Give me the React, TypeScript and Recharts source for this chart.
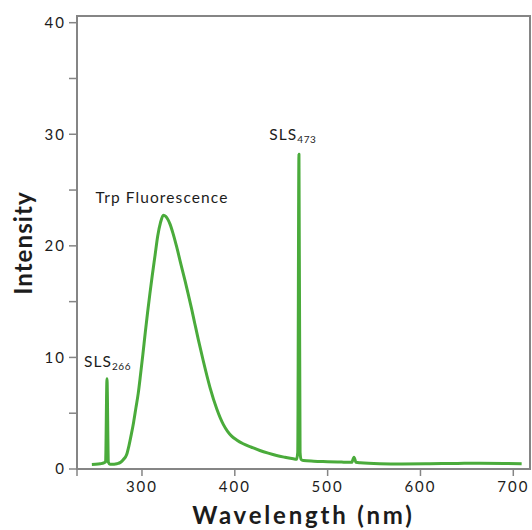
import {
  Label,
  Line,
  LineChart,
  ReferenceArea,
  ReferenceDot,
  XAxis,
  YAxis,
} from 'recharts'

// emission spectrum
const wavelengths = [
  246, 250, 255, 259, 260.8, 262.3, 263.8, 265.5, 270, 273, 277, 280, 283.5,
  286, 288.5, 291, 293.5, 296, 298.5, 301, 303.5, 306, 308.5, 311, 314, 317,
  320, 323, 325.5, 328, 330.2, 333.5, 337.4, 341.5, 346.3, 350, 353.6,
  357, 360.7, 366, 373.3, 380.5, 387.6, 392, 396.6, 402, 409, 418, 427, 436,
  445, 454, 463, 466.5, 467.8, 469.1, 470.3, 471.5, 473.8, 485, 500, 515,
  522, 526, 528.4, 530.5, 535, 556, 580, 610, 640, 664, 690, 709,
]
const intensity = [
  0.4, 0.42, 0.47, 0.55, 0.65, 8.08, 0.6, 0.42, 0.43, 0.47, 0.6, 0.85, 1.3,
  2.1, 3.1, 4.2, 5.5, 6.8, 8.5, 10.3, 12.2, 14.0, 15.7, 17.3, 19.1, 20.9,
  22.1, 22.75, 22.65, 22.35, 21.95, 21.1, 19.9, 18.5, 16.9, 15.6, 14.3, 13.0,
  11.6, 9.7, 7.3, 5.4, 4.0, 3.4, 2.95, 2.6, 2.26, 1.95, 1.66, 1.42, 1.21,
  1.05, 0.91, 0.87, 1.5, 28.2, 1.5, 0.85, 0.76, 0.7, 0.66, 0.62, 0.6, 0.6,
  1.06, 0.6, 0.55, 0.47, 0.45, 0.47, 0.5, 0.52, 0.5, 0.47,
]

const yTicks = [0, 5, 10, 15, 20, 25, 30, 35, 40]
const xTicks = [230, 300, 400, 500, 600, 700]

const data = wavelengths.map((w, i) => ({ w, v: intensity[i] }))

const GREEN = '#4aab3b'
const AXIS = '#858585'
const INK = '#1c1c1c'
const FONT = 'Lato, "DejaVu Sans", sans-serif'

function peakLabel(main: string, sub?: string) {
  return (props: any) => {
    const vb = props.viewBox || {}
    const x = (vb.x ?? 0) + (vb.width ?? 0) / 2
    const y = (vb.y ?? 0) + (vb.height ?? 0) / 2
    return (
      <text
        x={x}
        y={y}
        textAnchor="middle"
        fill={INK}
        fontFamily={FONT}
        fontSize={15.5}
        letterSpacing={1.1}
      >
        {main}
        {sub && (
          <tspan fontSize={10} dy={3} letterSpacing={0.6}>
            {sub}
          </tspan>
        )}
      </text>
    )
  }
}

export default function App() {
  return (
    <div style={{ position: 'absolute', left: 0, top: 0, width: 532, height: 530 }}>
      <LineChart
        width={532}
        height={530}
        data={data}
        margin={{ top: 16, right: 2, bottom: 0, left: 0 }}
      >
        <XAxis
          dataKey="w"
          type="number"
          domain={[230, 718]}
          ticks={xTicks}
          tickFormatter={(v) => (v === 230 ? '' : String(v))}
          height={61}
          tickSize={7}
          tickMargin={5}
          axisLine={{ stroke: AXIS, strokeWidth: 2 }}
          tickLine={{ stroke: AXIS, strokeWidth: 1.5 }}
          tick={{ fill: INK, fontSize: 15, fontFamily: FONT, letterSpacing: 2 }}
          allowDataOverflow
        >
          <Label
            content={(p: any) => {
              const vb = p.viewBox || {}
              return (
                <text
                  x={vb.x + vb.width / 2}
                  y={vb.y + 55}
                  textAnchor="middle"
                  fill={INK}
                  fontFamily={FONT}
                  fontWeight={700}
                  fontSize={24}
                  letterSpacing={2.8}
                >
                  Wavelength (nm)
                </text>
              )
            }}
          />
        </XAxis>
        <YAxis
          type="number"
          domain={[0, 40.6]}
          ticks={yTicks}
          tickFormatter={(v) => (v % 10 === 0 ? String(v) : '')}
          width={77}
          tickSize={8}
          tickMargin={3}
          axisLine={{ stroke: AXIS, strokeWidth: 2 }}
          tickLine={{ stroke: AXIS, strokeWidth: 1.5 }}
          tick={{ fill: INK, fontSize: 15, fontFamily: FONT, letterSpacing: 2 }}
          allowDataOverflow
        >
          <Label
            content={() => (
              <text
                x={32}
                y={243}
                transform="rotate(-90, 32, 243)"
                textAnchor="middle"
                fill={INK}
                fontFamily={FONT}
                fontWeight={700}
                fontSize={24}
                letterSpacing={1.1}
              >
                Intensity
              </text>
            )}
          />
        </YAxis>
        <ReferenceArea
          x1={230}
          x2={718}
          y1={0}
          y2={40.6}
          fill="none"
          stroke={AXIS}
          strokeWidth={2}
          ifOverflow="visible"
        />
        <Line
          type="monotone"
          dataKey="v"
          stroke={GREEN}
          strokeWidth={3}
          dot={false}
          activeDot={false}
          strokeLinejoin="round"
          isAnimationActive={false}
        />
        <ReferenceDot x={262.9} y={9.1} r={0} fill="none" stroke="none" label={peakLabel('SLS', '266')} />
        <ReferenceDot x={321.6} y={23.8} r={0} fill="none" stroke="none" label={peakLabel('Trp Fluorescence')} />
        <ReferenceDot x={462.5} y={29.5} r={0} fill="none" stroke="none" label={peakLabel('SLS', '473')} />
      </LineChart>
    </div>
  )
}
